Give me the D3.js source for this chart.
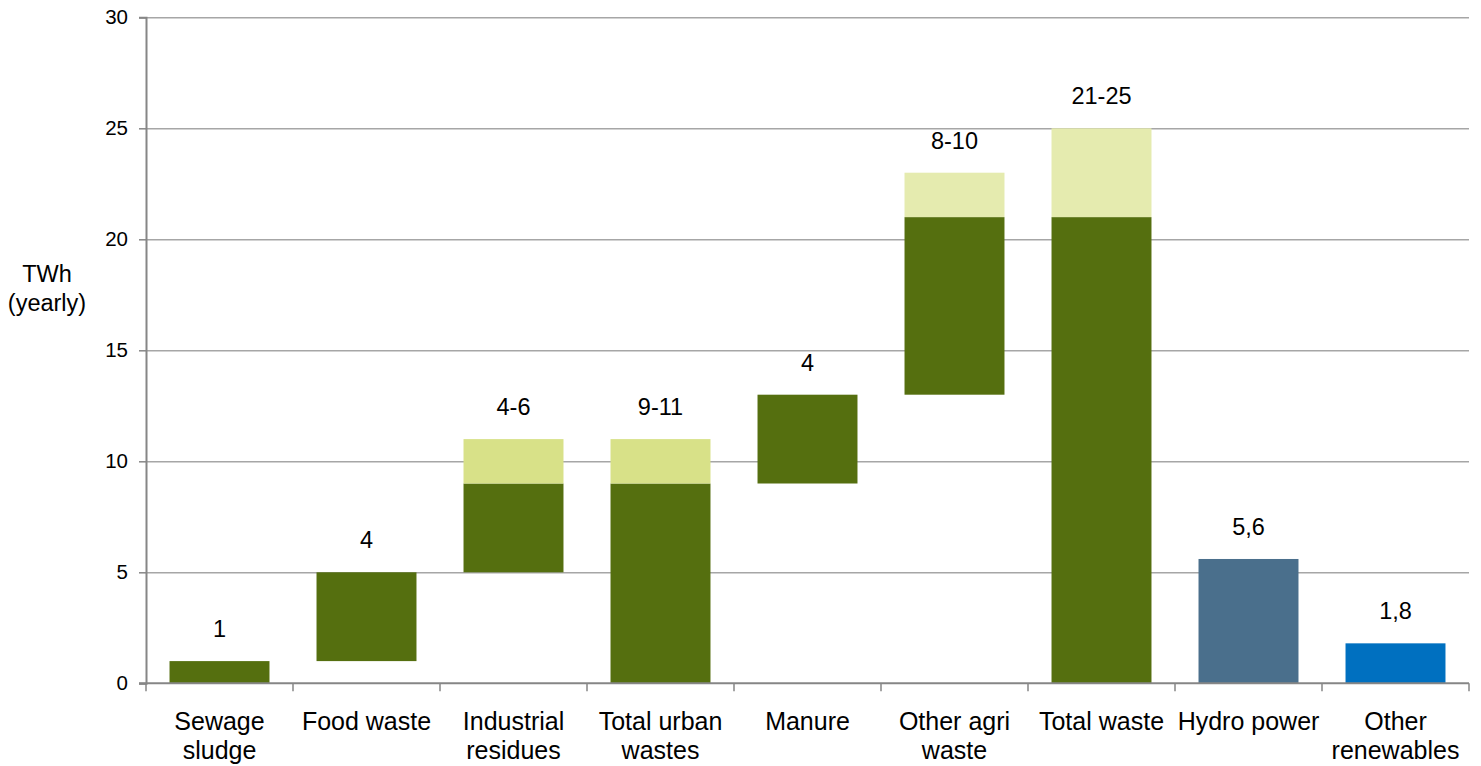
<!DOCTYPE html>
<html>
<head>
<meta charset="utf-8">
<script src="https://cdn.jsdelivr.net/npm/d3@7/dist/d3.min.js"></script>
<style>
  html, body { margin: 0; padding: 0; background: #fff; }
  svg { display: block; font-family: "Liberation Sans", Arial, sans-serif; }
</style>
</head>
<body>
<svg id="chart" width="1481" height="766"></svg>
<script>
// ---- data ----
const categories = [["Sewage", "sludge"], ["Food waste"], ["Industrial", "residues"], ["Total urban", "wastes"], ["Manure"], ["Other agri", "waste"], ["Total waste"], ["Hydro power"], ["Other", "renewables"]];
const baseValues  = [0, 1, 5, 0, 9, 13, 0, 0, 0];
const coreValues  = [1, 4, 4, 9, 4, 8, 21, 5.6, 1.8];
const rangeValues = [0, 0, 2, 2, 0, 2, 4, 0, 0];
const valueLabels = ["1", "4", "4-6", "9-11", "4", "8-10", "21-25", "5,6", "1,8"];
const yTicks = [0, 5, 10, 15, 20, 25, 30];
const yTitle = ["TWh", "(yearly)"];

// ---- styles ----
const coreColors  = ["#556f0f", "#556f0f", "#556f0f", "#556f0f", "#556f0f", "#556f0f", "#556f0f", "#4a6f8c", "#0070c0"];
const rangeColors = ["#d8e188", "#d8e188", "#d8e188", "#d8e188", "#d8e188", "#e5ebaf", "#e5ebaf", "#d8e188", "#d8e188"];

const W = 1481, H = 766;
const margin = { top: 17.3, right: 12, bottom: 82.7, left: 146 };
const iw = W - margin.left - margin.right;
const ih = H - margin.top - margin.bottom;

const svg = d3.select("#chart");
const g = svg.append("g").attr("transform", `translate(${margin.left},${margin.top})`);

const keys = categories.map((c, i) => i);
const x = d3.scaleBand().domain(keys).range([0, iw]).paddingInner(0.32).paddingOuter(0.16);
const y = d3.scaleLinear().domain([0, 30]).range([ih, 0]);

// gridlines
g.append("g").selectAll("line").data(yTicks.filter(t => t > 0)).join("line")
  .attr("x1", 0).attr("x2", iw)
  .attr("y1", d => Math.round(y(d)) + 0.5).attr("y2", d => Math.round(y(d)) + 0.5)
  .attr("stroke", "#a6a6a6").attr("stroke-width", 1.5);

// y axis
const yAxis = g.append("g")
  .call(d3.axisLeft(y).tickValues(yTicks).tickSize(7).tickPadding(11).tickFormat(d3.format("d")));
yAxis.select(".domain").attr("stroke", "#868686").attr("stroke-width", 2);
yAxis.selectAll(".tick line").attr("stroke", "#868686").attr("stroke-width", 1.5);
yAxis.selectAll(".tick text").attr("font-size", 20.5).attr("fill", "#000")
  .attr("font-family", "'Liberation Sans', Arial, sans-serif");

// bars
const segs = [];
keys.forEach(i => {
  const b = baseValues[i], c = coreValues[i], r = rangeValues[i];
  segs.push({ i, y0: b, y1: b + c, color: coreColors[i] });
  if (r > 0) segs.push({ i, y0: b + c, y1: b + c + r, color: rangeColors[i] });
});
g.append("g").selectAll("rect").data(segs).join("rect")
  .attr("x", d => x(d.i))
  .attr("width", x.bandwidth())
  .attr("y", d => y(d.y1))
  .attr("height", d => y(d.y0) - y(d.y1))
  .attr("fill", d => d.color);

// x axis
const xAxisG = g.append("g").attr("transform", `translate(0,${ih})`);
xAxisG.append("line").attr("x1", -7).attr("x2", iw).attr("y1", 0).attr("y2", 0)
  .attr("stroke", "#868686").attr("stroke-width", 2);
const step = x.step();
const bounds = d3.range(keys.length + 1).map(k => k * step);
xAxisG.selectAll("line.tk").data(bounds).join("line").attr("class", "tk")
  .attr("x1", d => d).attr("x2", d => d).attr("y1", 0).attr("y2", 8)
  .attr("stroke", "#868686").attr("stroke-width", 1.5);

// category labels
const catG = xAxisG.selectAll("text.cat").data(keys).join("text").attr("class", "cat")
  .attr("text-anchor", "middle").attr("font-size", 25).attr("fill", "#000")
  .attr("transform", d => `translate(${x(d) + x.bandwidth() / 2},0)`);
catG.selectAll("tspan").data(d => categories[d]).join("tspan")
  .attr("x", 0).attr("y", (d, j) => 47 + j * 28.5).text(d => d);

// value labels
g.append("g").selectAll("text").data(keys).join("text")
  .attr("x", d => x(d) + x.bandwidth() / 2)
  .attr("y", d => y(baseValues[d] + coreValues[d] + rangeValues[d]) - 24)
  .attr("text-anchor", "middle").attr("font-size", 23.5).attr("fill", "#000")
  .text(d => valueLabels[d]);

// y title
svg.append("text").attr("text-anchor", "middle").attr("font-size", 23.5).attr("fill", "#000")
  .selectAll("tspan").data(yTitle).join("tspan")
  .attr("x", 47).attr("y", (d, j) => 282 + j * 29).text(d => d);
</script>
</body>
</html>
